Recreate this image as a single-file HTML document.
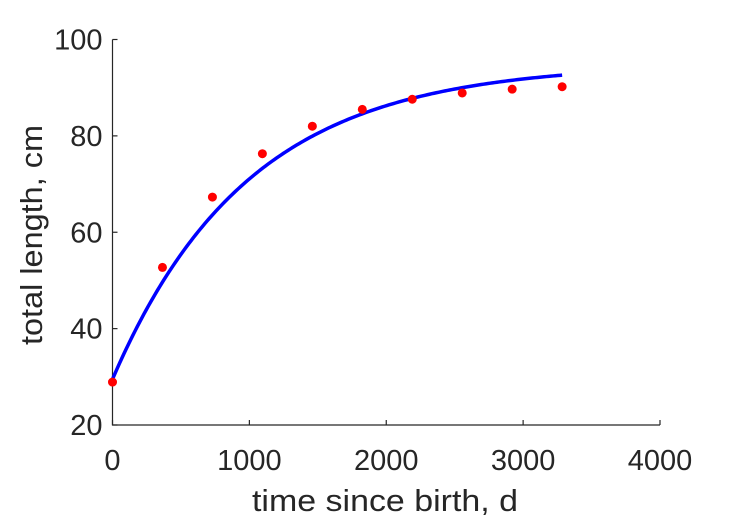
<!DOCTYPE html>
<html><head><meta charset="utf-8"><style>
html,body{margin:0;padding:0;background:#fff;}
svg{display:block;font-family:"Liberation Sans",sans-serif;}
</style></head><body>
<svg id="chart" width="729" height="521" viewBox="0 0 729 521"></svg>
<script>
const obsDays = [0, 365, 730, 1095, 1460, 1825, 2190, 2555, 2920, 3285];
const obsLength = [28.9, 52.7, 67.3, 76.3, 82.0, 85.5, 87.6, 88.9, 89.7, 90.2];
const fitLinf = 95.0;
const fitL0 = 29.5;
const fitK = 0.001007;
const fitEnd = 3285;
const xTicks = [0, 1000, 2000, 3000, 4000];
const yTicks = [20, 40, 60, 80, 100];

const L = 112.5, R = 660, T = 39.5, B = 425;
const xMin = 0, xMax = 4000, yMin = 20, yMax = 100;
const sx = v => L + (v - xMin) / (xMax - xMin) * (R - L);
const sy = v => B - (v - yMin) / (yMax - yMin) * (B - T);
const NS = "http://www.w3.org/2000/svg";
const svg = document.getElementById("chart");
function mk(tag, attrs, parent) {
  const e = document.createElementNS(NS, tag);
  for (const k in attrs) e.setAttribute(k, attrs[k]);
  (parent || svg).appendChild(e);
  return e;
}
const axisColor = "#262626";
const ax = mk("path", {d:`M${L},${T}V${B}H${R}`, fill:"none", stroke:axisColor, "stroke-width":1.2});


xTicks.forEach(t => {
  const x = sx(t);
  const tk = mk("line", {x1:x, x2:x, y1:B, y2:B-5, stroke:axisColor, "stroke-width":1.2});
  
  
  const lb = mk("text", {x:x, y:B+45, "text-anchor":"middle", "font-size":29, fill:axisColor});
  lb.textContent = t;
  
  
});
yTicks.forEach(t => {
  const y = sy(t);
  const tk = mk("line", {x1:L, x2:L+5, y1:y, y2:y, stroke:axisColor, "stroke-width":1.2});
  
  
  const lb = mk("text", {x:L-10, y:y+10, "text-anchor":"end", "font-size":29, fill:axisColor});
  lb.textContent = t;
  
  
});
const xt = mk("text", {x:385, y:511, "text-anchor":"middle", "font-size":31, fill:axisColor, textLength:266, lengthAdjust:"spacingAndGlyphs"});
xt.textContent = "time since birth, d";


const yt = mk("text", {x:0, y:0, "text-anchor":"middle", "font-size":31, fill:axisColor, textLength:220, lengthAdjust:"spacingAndGlyphs", transform:`translate(42,235) rotate(-90)`});
yt.textContent = "total length, cm";


let d = "";
for (let i = 0; i <= 200; i++) {
  const t = fitEnd * i / 200;
  const v = fitLinf - (fitLinf - fitL0) * Math.exp(-fitK * t);
  d += (i ? "L" : "M") + sx(t).toFixed(2) + "," + sy(v).toFixed(2);
}
const curve = mk("path", {d:d, fill:"none", stroke:"#0000ff", "stroke-width":3.5});


obsDays.forEach((t, i) => {
  const c = mk("circle", {cx:sx(t), cy:sy(obsLength[i]), r:4.5, fill:"#ff0000"});
  
  
});
</script>
</body></html>
